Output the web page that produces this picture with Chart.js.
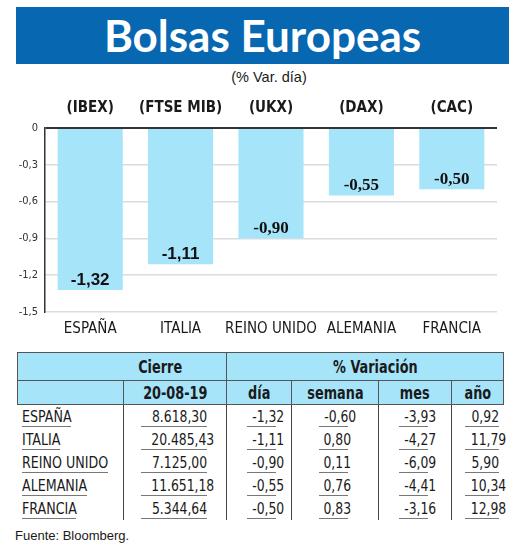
<!DOCTYPE html>
<html>
<head>
<meta charset="utf-8">
<script src="https://cdn.jsdelivr.net/npm/chart.js@4.4.1/dist/chart.umd.min.js"></script>
<style>
  html, body { margin:0; padding:0; background:#fff; }
  body { width:520px; height:550px; position:relative; overflow:hidden; font-family:"DejaVu Sans Condensed","DejaVu Sans",sans-serif; color:#1a1a1a; }
  #title { position:absolute; left:16px; top:7px; width:493px; height:57px; background:#0767b1; color:#fff;
           font-family:Lato,"Open Sans",sans-serif; font-weight:bold; font-size:44px; line-height:57px; text-align:center; }
  #subtitle { position:absolute; left:0; width:538px; top:69px; text-align:center; font-family:"Liberation Sans",sans-serif; font-size:14.5px; color:#1a1a1a; }
  #chart { position:absolute; left:0; top:88px; }
  #tbl { position:absolute; left:17px; top:352px; border-collapse:collapse; table-layout:fixed; width:486px; }
  #tbl td { padding:0; font-size:16px; white-space:nowrap; }
  #tbl tr.h td { background:#a6e4fa; font-weight:bold; font-size:17px; text-align:center; border:1px solid #555; }
  #tbl tr.h1 td { height:27px; }
  #tbl tr.h2 td { height:23px; }
  #tbl tr.d td { height:23px; border-left:1px solid #444; vertical-align:bottom; }
  #tbl tr.d td:first-child { border-left:none; }
  .u { border-bottom:1.5px solid #777; line-height:19px; text-align:right; margin-bottom:1px; }
  .nm { display:inline-block; border-bottom:1.5px solid #777; line-height:19px; margin-left:4px; margin-bottom:1px; }
  .sx { display:inline-block; transform:scaleX(0.86); transform-origin:right center; }
  .sxl { display:inline-block; transform:scaleX(0.88); transform-origin:left center; }
  .sxc { display:inline-block; transform:scaleX(0.84); transform-origin:center center; }
  #foot { position:absolute; left:15px; top:528px; font-family:"Liberation Sans",sans-serif; font-size:13px; color:#1a1a1a; }
</style>
</head>
<body>
<div id="title">Bolsas Europeas</div>
<div id="subtitle">(% Var. día)</div>
<canvas id="chart" width="520" height="257"></canvas>
<table id="tbl">
  <colgroup>
    <col style="width:106px"><col style="width:103px"><col style="width:65px"><col style="width:87px"><col style="width:73px"><col style="width:52px">
  </colgroup>
  <tbody id="tb"></tbody>
</table>
<div id="foot">Fuente: Bloomberg.</div>
<script>
// ---- data ----
const categories = ["ESPAÑA", "ITALIA", "REINO UNIDO", "ALEMANIA", "FRANCIA"];
const indexLabels = ["(IBEX)", "(FTSE MIB)", "(UKX)", "(DAX)", "(CAC)"];
const varDia = [-1.32, -1.11, -0.90, -0.55, -0.50];
const yTicks = [0, -0.3, -0.6, -0.9, -1.2, -1.5];

const tableHeader1 = ["Cierre", "% Variación"];
const tableHeader2 = ["20-08-19", "día", "semana", "mes", "año"];
const cierre = ["8.618,30", "20.485,43", "7.125,00", "11.651,18", "5.344,64"];
const semana = ["-0,60", "0,80", "0,11", "0,76", "0,83"];
const mes = ["-3,93", "-4,27", "-6,09", "-4,41", "-3,16"];
const anio = ["0,92", "11,79", "5,90", "10,34", "12,98"];

const fmt = v => Math.abs(v) < 1e-9 ? "0" : v.toFixed(2).replace(".", ",");
const fmtTick = v => Math.abs(v) < 1e-9 ? "0" : v.toFixed(1).replace(".", ",");

// ---- styles (not data) ----
const labelFonts = ["Liberation Sans", "Liberation Sans", "Liberation Serif", "Liberation Serif", "Liberation Serif"];
const narrow = "'DejaVu Sans Condensed','DejaVu Sans',sans-serif";

const valueLabels = {
  id: "valueLabels",
  afterDatasetsDraw(chart) {
    const ctx = chart.ctx;
    const meta = chart.getDatasetMeta(0);
    ctx.save();
    ctx.fillStyle = "#111";
    ctx.textAlign = "center";
    ctx.textBaseline = "middle";
    meta.data.forEach((el, i) => {
      ctx.font = "bold 17px '" + labelFonts[i] + "'";
      ctx.fillText(fmt(varDia[i]), el.x, el.y - 10);
    });
    ctx.restore();
  }
};

new Chart(document.getElementById("chart"), {
  type: "bar",
  data: {
    labels: categories,
    datasets: [{
      data: varDia,
      backgroundColor: "#a6e4fa",
      borderWidth: 0,
      barPercentage: 0.8,
      categoryPercentage: 0.9,
      xAxisID: "x",
      yAxisID: "y"
    }]
  },
  options: {
    responsive: false,
    animation: false,
    devicePixelRatio: 1,
    layout: { padding: { left: 0, right: 23, top: 0, bottom: 0 } },
    plugins: { legend: { display: false }, tooltip: { enabled: false } },
    scales: {
      x: {
        type: "category",
        position: "bottom",
        offset: true,
        grid: { display: false, drawTicks: false },
        border: { display: false },
        ticks: { color: "#1a1a1a", font: { family: narrow, size: 15 }, padding: 8, maxRotation: 0, autoSkip: false },
        afterFit: s => { s.height = 33; }
      },
      xTop: {
        type: "category",
        position: "top",
        labels: indexLabels,
        offset: true,
        grid: { display: false, drawTicks: false },
        border: { display: false },
        ticks: { color: "#1a1a1a", font: { family: narrow, size: 15, weight: "bold" }, padding: 11, maxRotation: 0, autoSkip: false },
        afterFit: s => { s.height = 40; }
      },
      y: {
        min: -1.5,
        max: 0,
        afterBuildTicks: s => { s.ticks = yTicks.map(v => ({ value: v })); },
        grid: {
          color: c => (c.tick && Math.abs(c.tick.value) < 1e-9) ? "#333" : "#dcdcdc",
          lineWidth: c => (c.tick && Math.abs(c.tick.value) < 1e-9) ? 2 : 1.5,
          drawTicks: false
        },
        border: { display: true, color: "#333", width: 1.5 },
        ticks: { color: "#333", font: { family: narrow, size: 11 }, padding: 7, callback: v => fmtTick(v) },
        afterFit: s => { s.width = 45; }
      }
    }
  },
  plugins: [valueLabels]
});

// ---- table ----
const tb = document.getElementById("tb");
let html = "";
html += '<tr class="h h1"><td colspan="2" style="padding-left:77px"><span class="sxc">' + tableHeader1[0] + '</span></td>' +
        '<td colspan="4" style="padding-left:21px"><span class="sxc">' + tableHeader1[1] + '</span></td></tr>';
html += '<tr class="h h2"><td style="border-right:1px solid #555"></td>' + tableHeader2.map(t => '<td><span class="sxc">' + t + '</span></td>').join("") + '</tr>';
const insets = [[17, 19], [20, 15], [27, 30], [20, 23], [13, 5]];
categories.forEach((c, i) => {
  const vals = [cierre[i], fmt(varDia[i]), semana[i], mes[i], anio[i]];
  html += '<tr class="d"><td><span class="nm" style="width:' + '' + 'auto"><span class="sxl">' + c + '</span></span></td>' +
    vals.map((v, j) => '<td><div class="u" style="margin-left:' + insets[j][0] + 'px;margin-right:' + insets[j][1] + 'px"><span class="sx">' + v + '</span></div></td>').join("") +
    '</tr>';
});
tb.innerHTML = html;
// shrink name underlines to the scaled text width
document.querySelectorAll(".nm").forEach(n => {
  const s = n.firstChild;
  n.style.width = (s.getBoundingClientRect().width) + "px";
});
</script>
</body>
</html>
